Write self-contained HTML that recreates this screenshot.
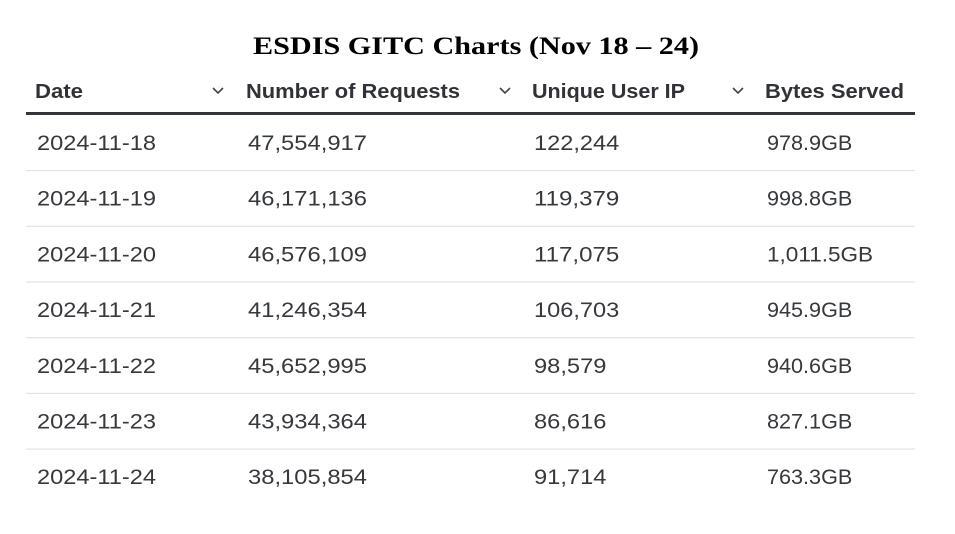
<!DOCTYPE html>
<html><head><meta charset="utf-8"><style>
html,body{margin:0;padding:0;background:#fff;width:955px;height:534px;overflow:hidden}
svg{display:block}
.t{font-family:"Liberation Serif",serif;font-weight:bold;font-size:25px;fill:#000}
.h{font-family:"Liberation Sans",sans-serif;font-weight:bold;font-size:20px;fill:#2f3237}
.d{font-family:"Liberation Sans",sans-serif;font-size:21px;fill:#35383d}
</style></head><body>
<svg id="s" width="955" height="534">
<text class="t" x="476" y="54" text-anchor="middle" textLength="446" lengthAdjust="spacingAndGlyphs">ESDIS GITC Charts (Nov 18 – 24)</text>
</svg>
<script>
const headers=["Date","Number of Requests","Unique User IP","Bytes Served"];
const headerWidths=[48,214,153,139];
const dates=["2024-11-18","2024-11-19","2024-11-20","2024-11-21","2024-11-22","2024-11-23","2024-11-24"];
const requests=["47,554,917","46,171,136","46,576,109","41,246,354","45,652,995","43,934,364","38,105,854"];
const users=["122,244","119,379","117,075","106,703","98,579","86,616","91,714"];
const bytes=["978.9GB","998.8GB","1,011.5GB","945.9GB","940.6GB","827.1GB","763.3GB"];
const s=document.getElementById('s');const NS="http://www.w3.org/2000/svg";
const colX=[36,247,533,766];const chevX=[218,505,738];
function mk(tag,attrs,txt){const e=document.createElementNS(NS,tag);for(const k in attrs)e.setAttribute(k,attrs[k]);if(txt!==undefined)e.textContent=txt;s.appendChild(e);return e;}
headers.forEach((h,i)=>{
 const e=mk('text',{class:'h',x:colX[i]-1,y:98,textLength:headerWidths[i],lengthAdjust:'spacingAndGlyphs'},h);
 
 
});
chevX.forEach((x,i)=>{
 const p=mk('path',{d:`M${x-5} ${88}L${x} ${93}L${x+5} ${88}`,fill:'none',stroke:'#444','stroke-width':1.6});
 
 
});
const hl=mk('rect',{x:26,y:112,width:889,height:3,fill:'#34363a'});


const cols=[dates,requests,users,bytes];
const charW=12.9;
dates.forEach((d,r)=>{
 const y=150+r*55.7;
 cols.forEach((c,i)=>{
  const v=c[r];
  const w=v.length*charW-(v.split(/[,.\-]/).length-1)*5;
  const e=mk('text',{class:'d',x:colX[i]+1,y:y,textLength:w,lengthAdjust:'spacingAndGlyphs'},v);
  
  
 });
 if(r<dates.length-1){
  const l=mk('rect',{x:26,y:170+r*55.7,width:889,height:1.2,fill:'#e2e3e5'});
  
  
 }
});
</script>
</body></html>
